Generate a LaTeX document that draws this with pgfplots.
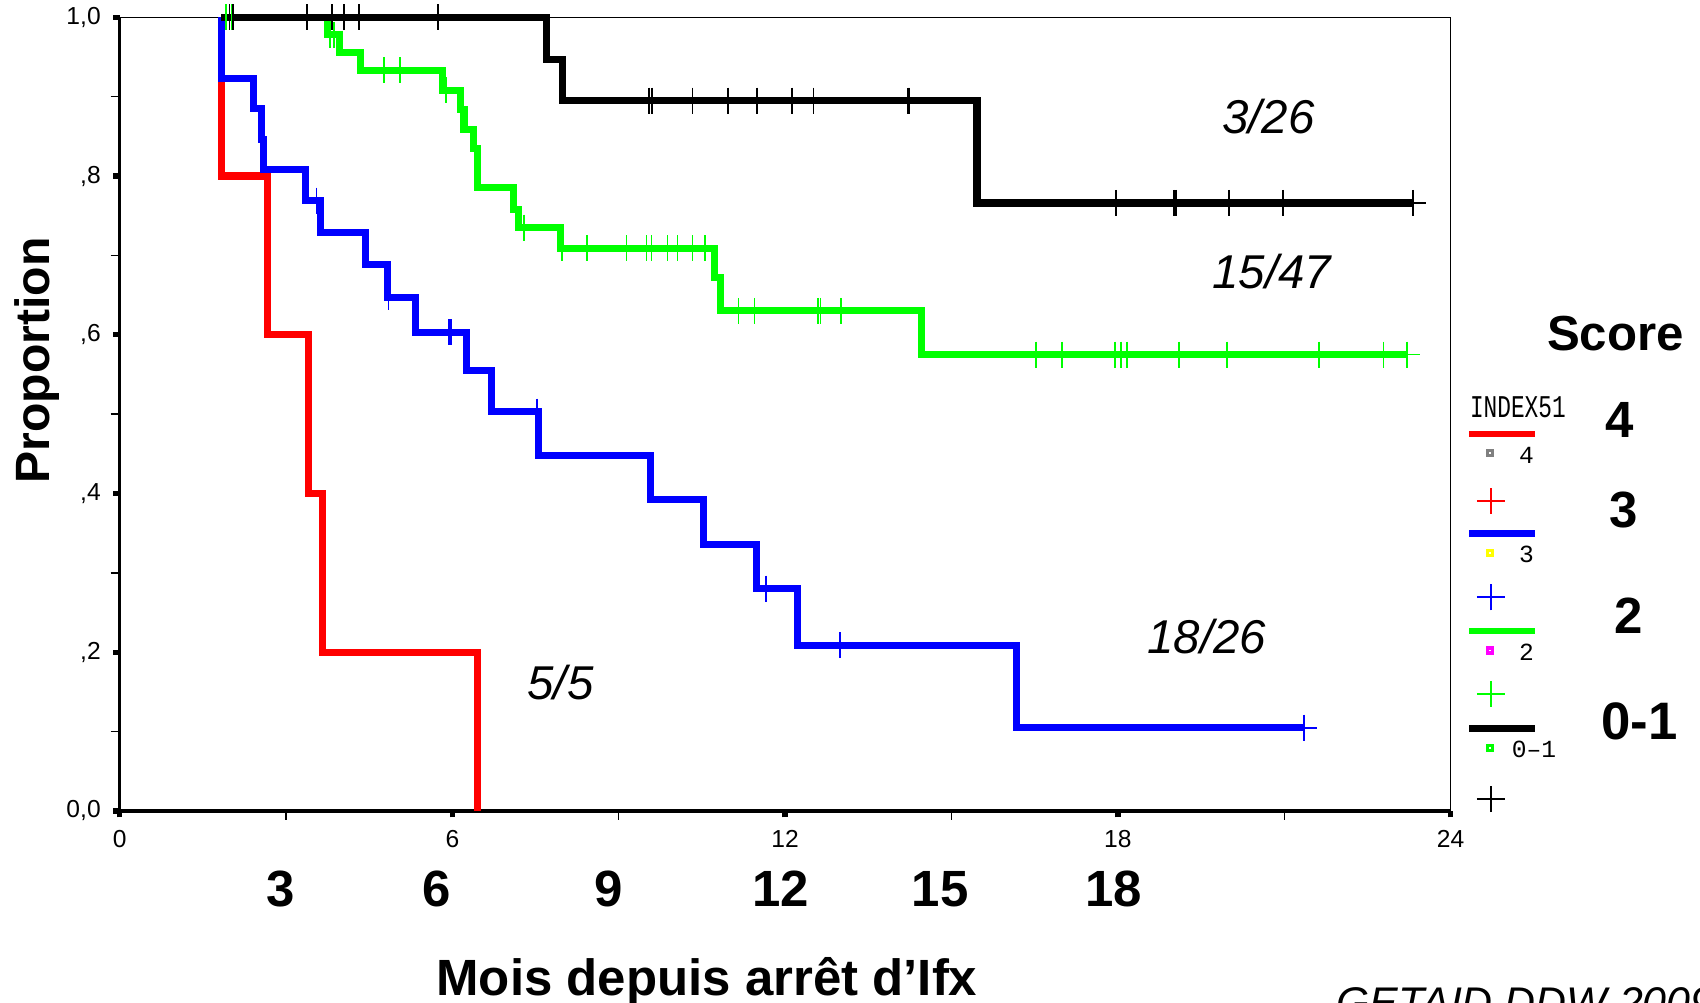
\documentclass[border=0pt]{standalone}
\usepackage{fontspec}
\setmainfont{Liberation Sans}
\newfontfamily\legmono{Liberation Mono}
\usepackage{pgfplots}
\pgfplotsset{compat=1.18}
\definecolor{kmred}{RGB}{255,0,0}
\definecolor{kmblue}{RGB}{0,0,255}
\definecolor{kmgreen}{RGB}{0,255,0}
\definecolor{kmyellow}{RGB}{255,255,0}
\definecolor{kmmag}{RGB}{255,0,255}
\begin{document}
\begin{tikzpicture}
\useasboundingbox (0,0) rectangle (17cm,10.03cm);
\begin{axis}[
  at={(1.196cm,1.920cm)}, anchor=south west, scale only axis,
  width=13.31cm, height=7.937cm,
  xmin=0, xmax=24, ymin=0, ymax=1,
  clip=false,
  axis line style={line width=0.4pt},
  xtick={0,6,12,18,24}, xticklabels={0,6,12,18,24},
  minor xtick={3,9,15,21},
  ytick={0,0.2,0.4,0.6,0.8,1},
  yticklabels={{0,0},{,2},{,4},{,6},{,8},{1,0}},
  minor ytick={0.1,0.3,0.5,0.7,0.9},
  tick pos=left, tick align=outside,
  major tick length=0.065cm, minor tick length=0.09cm,
  major tick style={line width=1.5pt, black},
  minor tick style={line width=0.4pt, black},
  ticklabel style={font=\fontsize{7}{8}\selectfont},
  mark options={solid},
]
\draw[line width=0.9pt] (rel axis cs:0,1) -- (rel axis cs:0,0) -- (rel axis cs:1,0);
% score 4 (red)
\addplot[const plot, kmred, line width=2pt] coordinates {
 (1.83,1.0) (1.83,0.8) (2.66,0.6) (3.40,0.4) (3.65,0.2) (6.46,0.0)};
% score 3 (blue)
\addplot[const plot, kmblue, line width=2pt] coordinates {
 (1.83,1.0) (1.83,0.923) (2.42,0.885) (2.55,0.846) (2.60,0.808) (3.35,0.769)
 (3.63,0.729) (4.44,0.688) (4.83,0.647) (5.34,0.603) (6.26,0.555) (6.71,0.503)
 (7.55,0.448) (9.57,0.392) (10.53,0.336) (11.49,0.280) (12.23,0.209)
 (16.17,0.105) (21.35,0.105)};
\addplot[only marks, kmblue, mark=|, mark size=0.13cm, mark options={line width=0.5pt}] coordinates {
 (3.55,0.769) (4.85,0.647) (5.94,0.603) (5.98,0.603) (7.52,0.503) (11.65,0.280) (12.99,0.209)};
\addplot[only marks, kmblue, mark=+, mark size=0.13cm, mark options={line width=0.5pt}] coordinates {(21.35,0.105)};
% score 2 (green)
\addplot[const plot, kmgreen, line width=2pt] coordinates {
 (1.83,1.0) (3.74,0.978) (3.97,0.956) (4.35,0.933) (5.83,0.908) (6.14,0.884)
 (6.21,0.859) (6.38,0.835) (6.45,0.786) (7.10,0.758) (7.20,0.735) (7.95,0.709)
 (10.72,0.672) (10.83,0.630) (14.46,0.575) (23.21,0.575)};
\addplot[only marks, kmgreen, mark=|, mark size=0.13cm, mark options={line width=0.5pt}] coordinates {
 (1.92,1.0) (2.02,1.0) (3.80,0.978) (3.86,0.978) (4.77,0.933) (5.05,0.933) (5.88,0.908)
 (7.29,0.735) (7.98,0.709) (8.43,0.709) (9.14,0.709) (9.50,0.709) (9.59,0.709)
 (9.88,0.709) (10.06,0.709) (10.33,0.709) (10.56,0.709)
 (11.16,0.630) (11.45,0.630) (12.59,0.630) (12.64,0.630) (13.01,0.630)
 (16.53,0.575) (16.99,0.575) (17.95,0.575) (18.06,0.575) (18.17,0.575)
 (19.10,0.575) (19.97,0.575) (21.63,0.575) (22.79,0.575)};
\addplot[only marks, kmgreen, mark=+, mark size=0.13cm, mark options={line width=0.5pt}] coordinates {(23.21,0.575)};
% score 0-1 (black)
\addplot[const plot, black, line width=2pt] coordinates {
 (1.83,1.0) (7.70,0.947) (7.98,0.895) (15.46,0.766) (23.32,0.766)};
\addplot[only marks, black, mark=|, mark size=0.13cm, mark options={line width=0.5pt}] coordinates {
 (1.98,1.0) (2.05,1.0) (3.38,1.0) (3.83,1.0) (4.05,1.0) (4.31,1.0) (5.74,1.0)
 (9.55,0.895) (9.60,0.895) (10.33,0.895) (10.97,0.895) (11.49,0.895)
 (12.13,0.895) (12.51,0.895) (14.21,0.895) (14.24,0.895)
 (17.97,0.766) (19.01,0.766) (19.05,0.766) (20.01,0.766) (20.98,0.766)};
\addplot[only marks, black, mark=+, mark size=0.13cm, mark options={line width=0.5pt}] coordinates {(23.32,0.766)};
\end{axis}
% axis titles
\node[rotate=90, anchor=base, font=\bfseries\fontsize{13.7}{16}\selectfont] at (0.498cm,6.425cm) {Proportion};
\node[anchor=base, font=\bfseries\fontsize{14.5}{17}\selectfont] at (7.069cm,0.077cm) {Mois depuis arrêt d’Ifx};
% big month labels
\foreach \xx/\tt in {2.808/3, 4.369/6, 6.082/9, 7.806/12, 9.400/15, 11.135/18}
  \node[anchor=base, font=\bfseries\fontsize{14.5}{17}\selectfont] at (\xx cm,0.966cm) {\tt};
% annotations
\node[anchor=base, font=\itshape\fontsize{13.5}{16}\selectfont] at (12.685cm,8.696cm) {3/26};
\node[anchor=base, font=\itshape\fontsize{13.5}{16}\selectfont] at (12.718cm,7.146cm) {15/47};
\node[anchor=base, font=\itshape\fontsize{13.5}{16}\selectfont] at (12.067cm,3.492cm) {18/26};
\node[anchor=base, font=\itshape\fontsize{13.5}{16}\selectfont] at (5.605cm,3.037cm) {5/5};
\node[anchor=north west, inner sep=0pt, font=\itshape\fontsize{12.2}{14}\selectfont] at (13.357cm,0.164cm) {GETAID DDW 2009};
% legend
\node[anchor=base, font=\bfseries\fontsize{14}{16}\selectfont] at (16.155cm,6.528cm) {Score};
\node[anchor=base, font=\bfseries\fontsize{14.5}{16}\selectfont] at (16.198cm,5.65cm) {4};
\node[anchor=base, font=\bfseries\fontsize{14.5}{16}\selectfont] at (16.241cm,4.75cm) {3};
\node[anchor=base, font=\bfseries\fontsize{14.5}{16}\selectfont] at (16.285cm,3.698cm) {2};
\node[anchor=base, font=\bfseries\fontsize{15}{16}\selectfont] at (16.393cm,2.636cm) {0-1};
\node[anchor=base, inner sep=0pt] at (15.179cm,5.856cm) {\scalebox{0.72}[1]{\legmono\fontsize{9}{10}\selectfont INDEX51}};
\draw[kmred, line width=1.8pt] (14.691cm,5.693cm) -- (15.353cm,5.693cm);
\draw[kmblue, line width=1.8pt] (14.691cm,4.696cm) -- (15.353cm,4.696cm);
\draw[kmgreen, line width=1.8pt] (14.691cm,3.720cm) -- (15.353cm,3.720cm);
\draw[black, line width=1.8pt] (14.691cm,2.744cm) -- (15.353cm,2.744cm);
\draw[gray, line width=0.9pt] (14.872cm,5.473cm) rectangle (14.922cm,5.523cm);
\draw[kmyellow, line width=0.9pt] (14.872cm,4.476cm) rectangle (14.922cm,4.526cm);
\draw[kmmag, line width=0.9pt] (14.872cm,3.500cm) rectangle (14.922cm,3.550cm);
\draw[kmgreen, line width=0.9pt] (14.872cm,2.524cm) rectangle (14.922cm,2.574cm);
\node[anchor=base, font=\legmono\fontsize{7}{8}\selectfont] at (15.266cm,5.39cm) {4};
\node[anchor=base, font=\legmono\fontsize{7}{8}\selectfont] at (15.266cm,4.403cm) {3};
\node[anchor=base, font=\legmono\fontsize{7}{8}\selectfont] at (15.266cm,3.427cm) {2};
\node[anchor=base, font=\legmono\fontsize{7}{8}\selectfont] at (15.341cm,2.451cm) {0–1};
\foreach \cc/\yy in {kmred/5.021, kmblue/4.056, kmgreen/3.091, black/2.039} {
  \draw[\cc, line width=0.5pt] (14.768cm,\yy cm) -- (15.048cm,\yy cm);
  \draw[\cc, line width=0.5pt] (14.908cm,\yy cm-0.13cm) -- (14.908cm,\yy cm+0.13cm);
}
\end{tikzpicture}
\end{document}
